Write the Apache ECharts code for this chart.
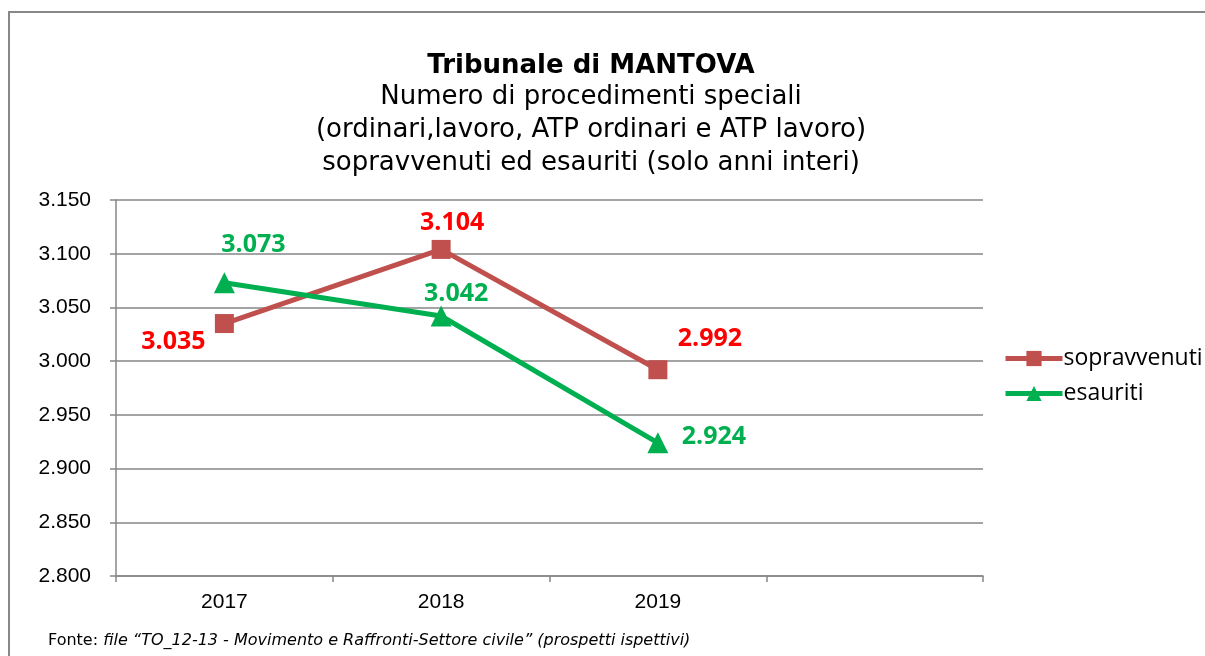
<!DOCTYPE html>
<html>
<head>
<meta charset="utf-8">
<script src="https://cdn.jsdelivr.net/npm/echarts@6/dist/echarts.min.js"></script>
<style>
  html, body { margin: 0; padding: 0; background: #fff; }
  #chart { width: 1205px; height: 656px; }
</style>
</head>
<body>
<div id="chart"></div>
<script>
// dati
var anni = ['2017', '2018', '2019', '']
var sopravvenuti = [3035, 3104, 2992]
var esauriti = [3073, 3042, 2924]
var yMin = 2800
var yMax = 3150
var yStep = 50

function fmt (v) {
  // separatore delle migliaia all'italiana
  var s = String(Math.round(v))
  return s.length > 3 ? s.slice(0, s.length - 3) + '.' + s.slice(s.length - 3) : s
}

// posizione delle etichette, punto per punto
var posRosso = [[-51, 18], [11, -27], [52, -31]]
var posVerde = [[29, -38], [15, -22], [56, -6]]

function punti (vals, pos, colore) {
  return vals.map(function (v, i) {
    return {
      value: v,
      label: { offset: pos[i], color: colore }
    }
  })
}

var myChart = echarts.init(document.getElementById('chart'))
myChart.setOption({
  animation: false,
  title: {
    text: 'Tribunale di MANTOVA',
    subtext: 'Numero di procedimenti speciali\n(ordinari,lavoro, ATP ordinari e ATP lavoro)\nsopravvenuti ed esauriti (solo anni interi)',
    left: 586,
    textAlign: 'center',
    top: 48,
    itemGap: 2,
    textStyle: {
      fontFamily: 'DejaVu Sans',
      fontWeight: 'bold',
      fontSize: 26,
      color: '#000'
    },
    subtextStyle: {
      fontFamily: 'DejaVu Sans',
      fontSize: 26,
      lineHeight: 33,
      color: '#000'
    }
  },
  legend: {
    orient: 'vertical',
    left: 1003,
    top: 347,
    padding: 0,
    itemWidth: 57,
    itemHeight: 19,
    itemGap: 12,
    lineStyle: { width: 5 },
    textStyle: {
      fontFamily: 'Open Sans',
      fontSize: 23,
      color: '#000',
      padding: [0, 0, 0, -4]
    },
    data: ['sopravvenuti', 'esauriti']
  },
  grid: {
    left: 116,
    right: 222,
    top: 200,
    bottom: 80
  },
  xAxis: {
    type: 'category',
    data: anni,
    boundaryGap: true,
    axisLine: { lineStyle: { color: '#868686', width: 1.5 } },
    axisTick: { show: true, length: 6, lineStyle: { color: '#868686', width: 1.5 } },
    axisLabel: {
      margin: 16,
      fontFamily: 'Liberation Sans',
      fontSize: 21,
      color: '#000'
    },
    splitLine: { show: false }
  },
  yAxis: {
    type: 'value',
    min: yMin,
    max: yMax,
    interval: yStep,
    axisLine: { show: true, lineStyle: { color: '#868686', width: 1.5 } },
    axisTick: { show: true, length: 6, lineStyle: { color: '#868686', width: 1.5 } },
    axisLabel: {
      margin: 25,
      fontFamily: 'Liberation Sans',
      fontSize: 21,
      color: '#000',
      formatter: fmt
    },
    splitLine: { show: true, lineStyle: { color: '#868686', width: 1.5 } }
  },
  series: [
    {
      name: 'sopravvenuti',
      type: 'line',
      data: punti(sopravvenuti, posRosso, '#ff0000'),
      symbol: 'rect',
      symbolSize: 19,
      lineStyle: { color: '#c0504d', width: 5 },
      itemStyle: { color: '#c0504d' },
      label: {
        show: true,
        position: 'inside',
        fontFamily: 'Open Sans',
        fontWeight: 'bold',
        fontSize: 25,
        formatter: function (p) { return fmt(p.value) }
      },
      z: 3
    },
    {
      name: 'esauriti',
      type: 'line',
      data: punti(esauriti, posVerde, '#00b050'),
      symbol: 'triangle',
      symbolSize: 21,
      lineStyle: { color: '#00b050', width: 5 },
      itemStyle: { color: '#00b050' },
      label: {
        show: true,
        position: 'inside',
        fontFamily: 'Open Sans',
        fontWeight: 'bold',
        fontSize: 25,
        formatter: function (p) { return fmt(p.value) }
      },
      z: 4
    }
  ],
  graphic: [
    {
      type: 'rect',
      shape: { x: 9, y: 12, width: 1300, height: 800 },
      style: { fill: 'none', stroke: '#888', lineWidth: 2 },
      silent: true
    },
    {
      type: 'text',
      left: 48,
      top: 633,
      style: {
        text: '{n|Fonte: }{i|file “TO_12-13 - Movimento e Raffronti-Settore civile” (prospetti ispettivi)}',
        rich: {
          n: { fontFamily: 'DejaVu Sans', fontSize: 16, fill: '#000' },
          i: { fontFamily: 'DejaVu Sans', fontStyle: 'italic', fontSize: 16, fill: '#000' }
        }
      }
    }
  ]
})
</script>
</body>
</html>
